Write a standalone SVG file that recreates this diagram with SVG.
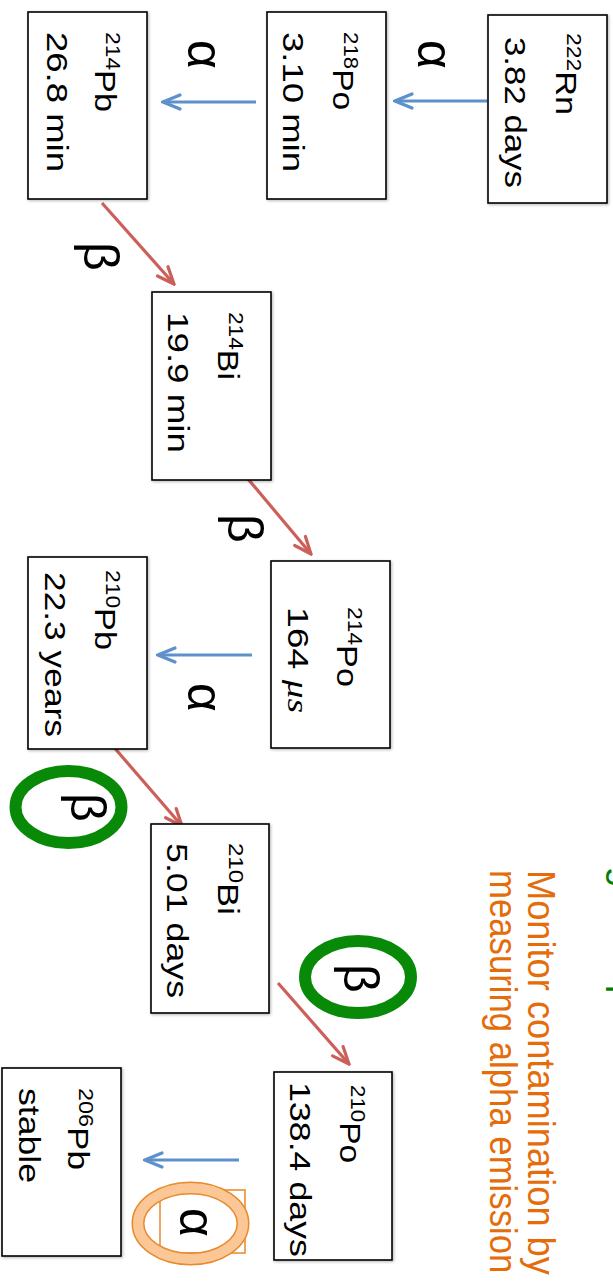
<svg xmlns="http://www.w3.org/2000/svg" width="613" height="1284" viewBox="0 0 613 1284">
<style>
.box{fill:#fff;stroke:#000;stroke-width:1.6;filter:url(#sh)}
.t{font-family:"Liberation Sans",Arial,sans-serif;font-size:30px;fill:#000}
.sup{font-size:20px}
.g{font-family:"Liberation Sans",Arial,sans-serif;font-size:50px;fill:#000}
.a{fill:none;stroke:#5E90CC;stroke-width:3.2}
.b{fill:none;stroke:#CD5F5B;stroke-width:3.2}
.note{font-family:"Liberation Sans",Arial,sans-serif;font-size:38px}
</style>
<defs>
<filter id="sh" x="-10%" y="-10%" width="120%" height="120%">
<feDropShadow dx="1" dy="1" stdDeviation="1.5" flood-color="#000" flood-opacity="0.3"/>
</filter>
<marker id="ha" viewBox="-22 -10 24 20" refX="0" refY="0" markerWidth="24" markerHeight="20" markerUnits="userSpaceOnUse" orient="auto">
<path d="M-17,-7 L0,0 L-17,7" fill="none" stroke="#5E90CC" stroke-width="3.2" stroke-linecap="round"/>
</marker>
<marker id="hb" viewBox="-22 -10 24 20" refX="0" refY="0" markerWidth="24" markerHeight="20" markerUnits="userSpaceOnUse" orient="auto">
<path d="M-17,-7 L0,0 L-17,7" fill="none" stroke="#CD5F5B" stroke-width="3.2" stroke-linecap="round"/>
</marker>
</defs>
<rect width="613" height="1284" fill="#fff"/>

<g id="connectors">
<path class="a" d="M487,101 L395,101" marker-end="url(#ha)"/>
<path class="a" d="M256,102 L163,102" marker-end="url(#ha)"/>
<path class="a" d="M252,655 L158,655" marker-end="url(#ha)"/>
<path class="a" d="M239,1160 L145,1160" marker-end="url(#ha)"/>
<path class="b" d="M102,203 L174,284" marker-end="url(#hb)"/>
<path class="b" d="M243,473 L311,554" marker-end="url(#hb)"/>
<path class="b" d="M112,745 L182,826" marker-end="url(#hb)"/>
<path class="b" d="M278,983 L349,1064" marker-end="url(#hb)"/>
<text class="g" transform="translate(418,40) rotate(90)">α</text>
<text class="g" transform="translate(188,40) rotate(90)">α</text>
<text class="g" transform="translate(188,683) rotate(90)">α</text>
<text class="g" font-size="48" transform="translate(84,242) rotate(90)">β</text>
<text class="g" font-size="48" transform="translate(228,514) rotate(90)">β</text>
</g>

<g id="rn222">
<rect class="box" x="488" y="15" width="119" height="188"/>
<text class="t" transform="translate(556,33) rotate(90)" textLength="82" lengthAdjust="spacingAndGlyphs"><tspan class="sup" dy="-11">222</tspan><tspan dy="11">Rn</tspan></text>
<text class="t" transform="translate(505,37) rotate(90)" textLength="151" lengthAdjust="spacingAndGlyphs">3.82 days</text>
</g>
<g id="po218">
<rect class="box" x="267" y="12" width="119" height="187"/>
<text class="t" transform="translate(333,32) rotate(90)" textLength="78" lengthAdjust="spacingAndGlyphs"><tspan class="sup" dy="-11">218</tspan><tspan dy="11">Po</tspan></text>
<text class="t" transform="translate(283,32) rotate(90)" textLength="140" lengthAdjust="spacingAndGlyphs">3.10 min</text>
</g>
<g id="pb214">
<rect class="box" x="28" y="12" width="119" height="187"/>
<text class="t" transform="translate(95,32) rotate(90)" textLength="80" lengthAdjust="spacingAndGlyphs"><tspan class="sup" dy="-11">214</tspan><tspan dy="11">Pb</tspan></text>
<text class="t" transform="translate(47,32) rotate(90)" textLength="140" lengthAdjust="spacingAndGlyphs">26.8 min</text>
</g>
<g id="bi214">
<rect class="box" x="152" y="292" width="119" height="188"/>
<text class="t" transform="translate(218,312) rotate(90)" textLength="68" lengthAdjust="spacingAndGlyphs"><tspan class="sup" dy="-11">214</tspan><tspan dy="11">Bi</tspan></text>
<text class="t" transform="translate(168,312) rotate(90)" textLength="141" lengthAdjust="spacingAndGlyphs">19.9 min</text>
</g>
<g id="po214">
<rect class="box" x="271" y="561" width="119" height="187"/>
<text class="t" transform="translate(337,607) rotate(90)" textLength="80" lengthAdjust="spacingAndGlyphs"><tspan class="sup" dy="-11">214</tspan><tspan dy="11">Po</tspan></text>
<text class="t" transform="translate(288,607) rotate(90)" textLength="106" lengthAdjust="spacingAndGlyphs">164 <tspan font-family="'Liberation Serif',serif" font-style="italic">μs</tspan></text>
</g>
<g id="pb210">
<rect class="box" x="28" y="557" width="119" height="192"/>
<text class="t" transform="translate(95,570) rotate(90)" textLength="80" lengthAdjust="spacingAndGlyphs"><tspan class="sup" dy="-11">210</tspan><tspan dy="11">Pb</tspan></text>
<text class="t" transform="translate(45,572) rotate(90)" textLength="165" lengthAdjust="spacingAndGlyphs">22.3 years</text>
</g>
<g id="bi210">
<rect class="box" x="151" y="824" width="118" height="189"/>
<text class="t" transform="translate(218,843) rotate(90)" textLength="72" lengthAdjust="spacingAndGlyphs"><tspan class="sup" dy="-11">210</tspan><tspan dy="11">Bi</tspan></text>
<text class="t" transform="translate(167,843) rotate(90)" textLength="155" lengthAdjust="spacingAndGlyphs">5.01 days</text>
</g>
<g id="po210">
<rect class="box" x="274" y="1072" width="118" height="188"/>
<text class="t" transform="translate(340,1085) rotate(90)" textLength="78" lengthAdjust="spacingAndGlyphs"><tspan class="sup" dy="-11">210</tspan><tspan dy="11">Po</tspan></text>
<text class="t" transform="translate(290,1082) rotate(90)" textLength="175" lengthAdjust="spacingAndGlyphs">138.4 days</text>
</g>
<g id="pb206">
<rect class="box" x="2" y="1068" width="119" height="188"/>
<text class="t" transform="translate(68,1088) rotate(90)" textLength="82" lengthAdjust="spacingAndGlyphs"><tspan class="sup" dy="-11">206</tspan><tspan dy="11">Pb</tspan></text>
<text class="t" transform="translate(19,1088) rotate(90)" textLength="95" lengthAdjust="spacingAndGlyphs">stable</text>
</g>

<g id="beta-pb210-highlight">
<ellipse cx="68.5" cy="807" rx="53" ry="36" fill="none" stroke="#088A08" stroke-width="12"/>
<text class="g" font-size="48" transform="translate(71,793) rotate(90)">β</text>
</g>
<g id="beta-bi210-highlight">
<ellipse cx="358" cy="977" rx="53" ry="36" fill="none" stroke="#088A08" stroke-width="12"/>
<text class="g" font-size="48" transform="translate(344,964) rotate(90)">β</text>
</g>
<g id="alpha-po210-highlight">
<rect x="160" y="1190" width="85" height="63" fill="none" stroke="#E8892B" stroke-width="1.5"/>
<text class="g" transform="translate(180,1208) rotate(90)">α</text>
<ellipse cx="190.5" cy="1223.5" rx="52.5" ry="35.5" fill="none" stroke="#E8892B" stroke-width="13"/>
<ellipse cx="190.5" cy="1223.5" rx="52.5" ry="35.5" fill="none" stroke="#FBC796" stroke-width="10"/>
</g>

<g id="notes">
<text class="note" fill="#E46C0A" transform="translate(528,870) rotate(90) scale(0.954,1)">Monitor contamination by</text>
<text class="note" fill="#E46C0A" transform="translate(490,870) rotate(90) scale(0.914,1)">measuring alpha emission</text>
<text class="note" fill="#008000" transform="translate(614,806) rotate(90)" textLength="437" lengthAdjust="spacingAndGlyphs">Long-lived parents of <tspan font-size="25" dy="-14">210</tspan><tspan dy="14">Po</tspan></text>
</g>
</svg>
